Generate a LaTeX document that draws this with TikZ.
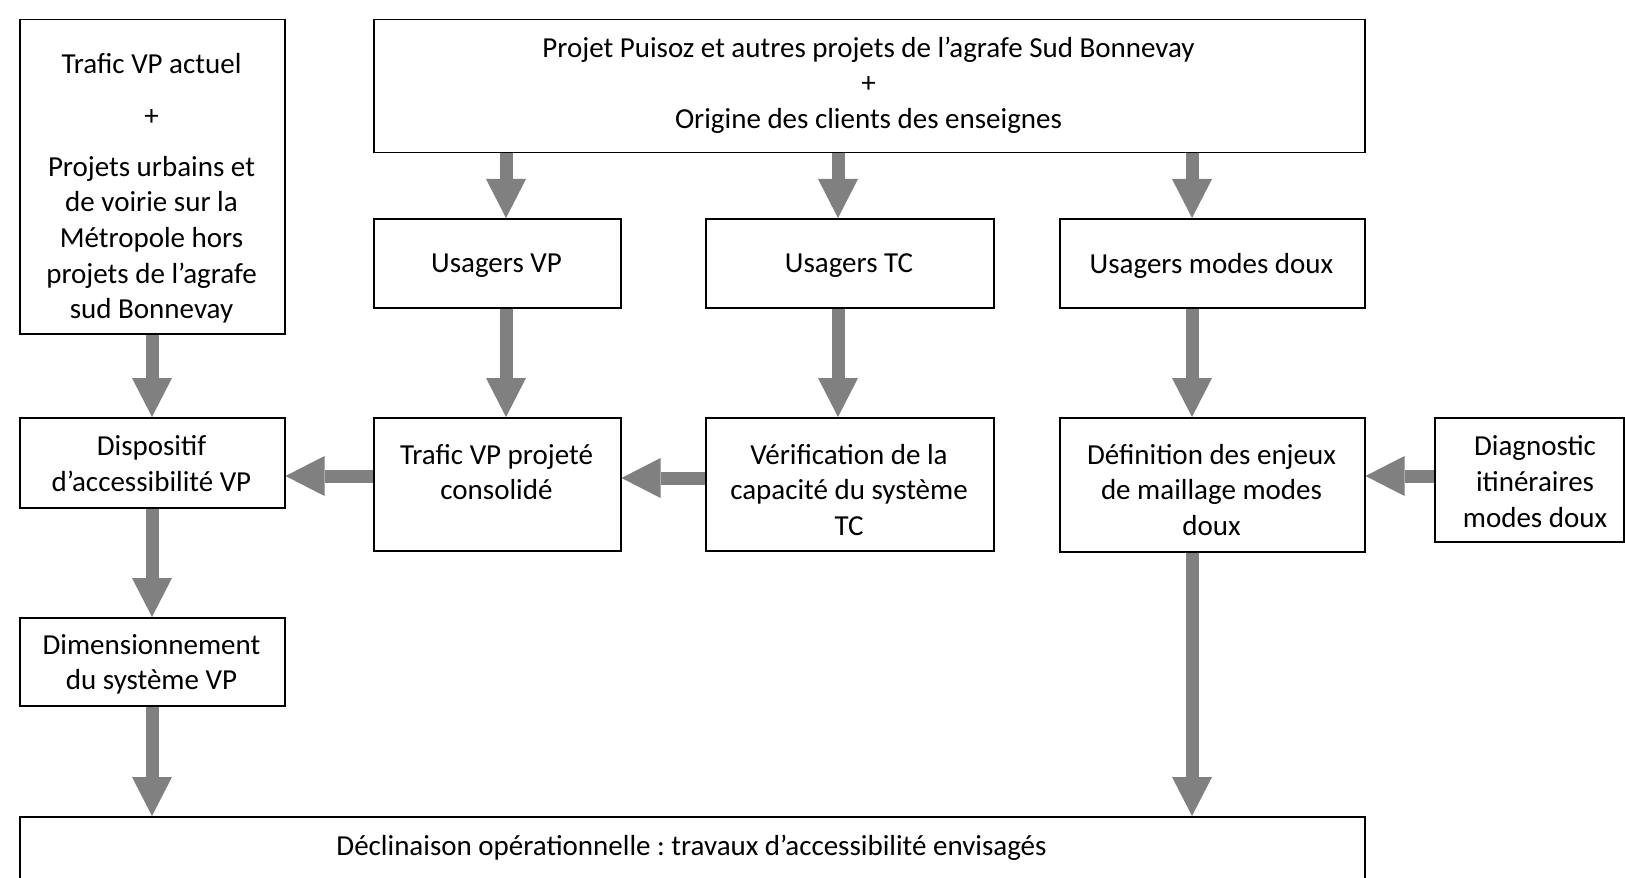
\documentclass[tikz,border=0pt]{standalone}
\usepackage{fontspec}
\setmainfont{Carlito}
\frenchspacing
\usetikzlibrary{arrows.meta,backgrounds}
\definecolor{arrowgray}{RGB}{128,128,128}
\begin{document}
\begin{tikzpicture}[x=0.5pt,y=-0.5pt,
  box/.style={draw=black, line width=0.75pt, inner sep=0pt, anchor=north west},
  txt/.style={align=center, inner sep=0pt, font=\fontsize{14.5}{17.85}\selectfont},
  flow/.style={draw=arrowgray, line width=6.5pt,
    -{Triangle[width=20pt,length=19.5pt,line width=0pt]}}]
\clip (0,0) rectangle (1625,877);

% boxes
\node[box, minimum width=132.5pt, minimum height=157pt]  (A)     at (19,19)   {};
\node[box, minimum width=495.5pt, minimum height=66.5pt] (top)   at (373,19)  {};
\node[box, minimum width=123.5pt, minimum height=44.5pt] (uvp)   at (373,218) {};
\node[box, minimum width=144pt,   minimum height=44.5pt] (utc)   at (705,218) {};
\node[box, minimum width=152.5pt, minimum height=44.5pt] (umd)   at (1059,218) {};
\node[box, minimum width=132.5pt, minimum height=45pt]   (disp)  at (19,417)  {};
\node[box, minimum width=123.5pt, minimum height=66.5pt] (tvp)   at (373,417) {};
\node[box, minimum width=144pt,   minimum height=66.5pt] (verif) at (705,417) {};
\node[box, minimum width=152.5pt, minimum height=67pt]   (def)   at (1059,417) {};
\node[box, minimum width=94.5pt,  minimum height=62pt]   (diag)  at (1434,417) {};
\node[box, minimum width=132.5pt, minimum height=44pt]   (dim)   at (19,617)  {};
\node[box, minimum width=672.5pt, minimum height=50pt]   (bot)   at (19,816)  {};

% texts
\node[txt] (tA) at (151.5,188.5) {Trafic VP actuel\\[8pt]+\\[7.5pt]Projets urbains et\\de voirie sur la\\Métropole hors\\projets de l’agrafe\\sud Bonnevay};
\node[txt] (ttop) at (868.5,85) {Projet Puisoz et autres projets de l’agrafe Sud Bonnevay\\+\\Origine des clients des enseignes};
\node[txt] (tuvp) at (496.5,266) {Usagers VP};
\node[txt] (tutc) at (849,266) {Usagers TC};
\node[txt] (tumd) at (1211.5,266) {Usagers modes doux};
\node[txt] (tdisp) at (151.5,463.3) {Dispositif\\d’accessibilité VP};
\node[txt] (ttvp) at (496.5,472) {Trafic VP projeté\\consolidé};
\node[txt] (tverif) at (849,490) {Vérification de la\\capacité du système\\TC};
\node[txt] (tdef) at (1211.5,490) {Définition des enjeux\\de maillage modes\\doux};
\node[txt] (tdiag) at (1535,481.5) {Diagnostic\\itinéraires\\modes doux};
\node[txt] (tdim) at (151.5,664.4) {Dimensionnement\\du système VP};
\node[txt] (tbot) at (691.5,847.7) {Déclinaison opérationnelle : travaux d’accessibilité envisagés};

% guide lines for the arrows
\coordinate (cL)  at (152,0);
\coordinate (cVP) at (506,0);
\coordinate (cTC) at (838,0);
\coordinate (cMD) at (1192,0);
\coordinate (rA)  at (0,476);
\coordinate (rB)  at (0,478);

\begin{scope}[on background layer]
\draw[flow] (A.south -| cL) -- (disp.north -| cL);
\draw[flow] (disp.south -| cL) -- (dim.north -| cL);
\draw[flow] (dim.south -| cL) -- (bot.north -| cL);
\draw[flow] (top.south -| cVP) -- (uvp.north -| cVP);
\draw[flow] (top.south -| cTC) -- (utc.north -| cTC);
\draw[flow] (top.south -| cMD) -- (umd.north -| cMD);
\draw[flow] (uvp.south -| cVP) -- (tvp.north -| cVP);
\draw[flow] (utc.south -| cTC) -- (verif.north -| cTC);
\draw[flow] (umd.south -| cMD) -- (def.north -| cMD);
\draw[flow] (def.south -| cMD) -- (bot.north -| cMD);
\draw[flow] (tvp.west |- rA) -- (disp.east |- rA);
\draw[flow] (verif.west |- rB) -- (tvp.east |- rB);
\draw[flow] (diag.west |- rA) -- (def.east |- rA);
\end{scope}
\end{tikzpicture}
\end{document}
